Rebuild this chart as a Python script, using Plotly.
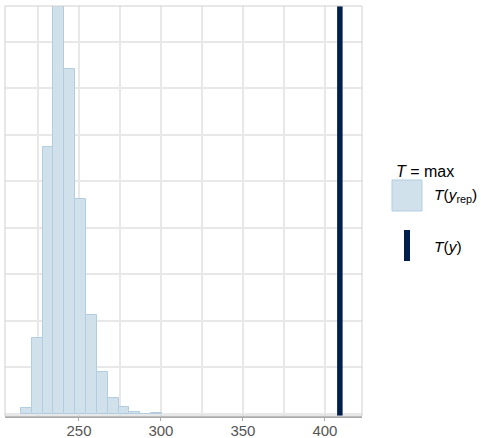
import plotly.graph_objects as go

# Posterior predictive check: distribution of max(y_rep) vs observed max(y)
bin_start = 214.6
bin_width = 6.615
rep_counts = [13, 164, 574, 877, 742, 463, 212, 90, 34, 14, 4, 0, 2]
observed_stat = 409.1
x_ticks = [250, 300, 350, 400]
x_range = [204.9, 422.6]

bin_centers = [bin_start + bin_width * (i + 0.5) for i in range(len(rep_counts))]

W, H = 481, 438
L, R, T, B = 5, 119, 6, 22
PW, PH = W - L - R, H - T - B


def px(x):
    return (x - L) / PW


def py(y):
    return (H - B - y) / PH


light = "#d1e1ec"
light_hl = "#b3cde0"
dark = "#011f4b"
font = "Liberation Sans, Arial, sans-serif"

fig = go.Figure()
fig.add_trace(go.Bar(
    x=bin_centers, y=rep_counts, width=bin_width,
    marker=dict(color=light, line=dict(color=light_hl, width=1)),
    showlegend=False, hoverinfo="skip",
))

ymax = max(rep_counts)
shapes = [
    # observed statistic
    dict(type="line", xref="x", yref="paper", x0=observed_stat, x1=observed_stat,
         y0=0, y1=1, line=dict(color=dark, width=5.5), layer="above"),
    # panel frame
    dict(type="rect", xref="paper", yref="paper", x0=0, x1=1, y0=0, y1=1,
         line=dict(color="#cfcfcf", width=1), layer="above"),
    # legend keys
    dict(type="rect", xref="paper", yref="paper", x0=px(392), x1=px(422),
         y0=py(211), y1=py(180), fillcolor=light, line=dict(color=light_hl, width=1)),
    dict(type="rect", xref="paper", yref="paper", x0=px(404), x1=px(410),
         y0=py(261), y1=py(230), fillcolor=dark, line=dict(width=0)),
]

annotations = [
    dict(text="<i>T</i> = max", xref="paper", yref="paper", x=px(394), y=py(171),
         xanchor="left", yanchor="middle", showarrow=False,
         font=dict(family=font, size=16, color="#000000")),
    dict(text="<i>T</i>(<i>y</i><sub>rep</sub>)", xref="paper", yref="paper",
         x=px(432), y=py(195), xanchor="left", yanchor="middle", showarrow=False,
         font=dict(family=font, size=15.5, color="#000000")),
    dict(text="<i>T</i>(<i>y</i>)", xref="paper", yref="paper",
         x=px(432), y=py(246), xanchor="left", yanchor="middle", showarrow=False,
         font=dict(family=font, size=15.5, color="#000000")),
]

fig.update_layout(
    width=W, height=H,
    margin=dict(l=L, r=R, t=T, b=B, pad=0, autoexpand=False),
    paper_bgcolor="white", plot_bgcolor="white",
    bargap=0, shapes=shapes, annotations=annotations,
    showlegend=False,
    xaxis=dict(
        range=x_range, tickvals=x_ticks, ticktext=[str(v) for v in x_ticks],
        automargin=False,
        showgrid=True, gridcolor="#e8e8e8", gridwidth=1.5,
        minor=dict(dtick=25, tick0=0, showgrid=True, gridcolor="#e8e8e8", gridwidth=1.5),
        showline=True, linecolor="#a9a9a9", linewidth=2,
        ticks="", ticklabelstandoff=0,
        tickfont=dict(family=font, size=15, color="#555555"),
        zeroline=False, fixedrange=True,
    ),
    # tick marks only, sharing the main x scale
    xaxis2=dict(
        range=x_range, tickvals=x_ticks, overlaying="x", side="bottom",
        anchor="y", showticklabels=False, showgrid=False, zeroline=False,
        showline=False, ticks="outside", ticklen=4, tickcolor="#a9a9a9",
        tickwidth=1.2, automargin=False,
    ),
    yaxis=dict(
        range=[-0.005 * ymax, ymax], dtick=100, showticklabels=False,
        automargin=False,
        showgrid=True, gridcolor="#e8e8e8", gridwidth=1.5,
        zeroline=False, showline=False, ticks="",
    ),
)
# invisible trace to bring the tick-mark axis into being
fig.add_trace(go.Scatter(x=[x_ticks[0]], y=[0], xaxis="x2", mode="markers",
                         marker=dict(opacity=0), showlegend=False, hoverinfo="skip"))

fig.write_html("out.html")
